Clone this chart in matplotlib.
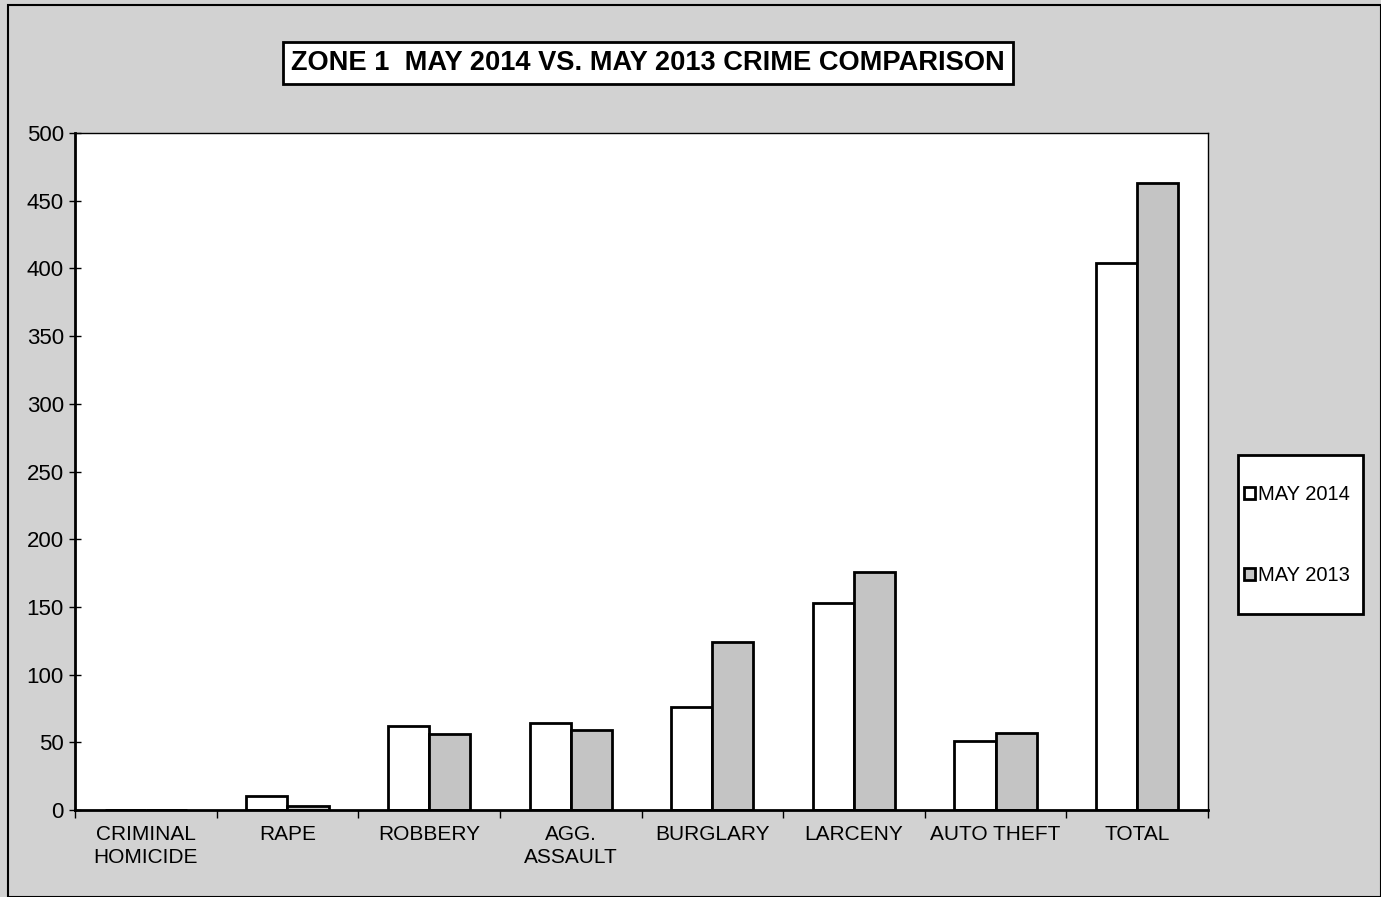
import numpy as np
import matplotlib.pyplot as plt
from matplotlib.patches import Rectangle

plt.rcParams['font.family'] = ['Liberation Sans', 'DejaVu Sans']

categories = ["CRIMINAL\nHOMICIDE", "RAPE", "ROBBERY", "AGG.\nASSAULT",
              "BURGLARY", "LARCENY", "AUTO THEFT", "TOTAL"]
may_2014 = [0, 10, 62, 64, 76, 153, 51, 404]
may_2013 = [0, 3, 56, 59, 124, 176, 57, 463]
yticks = [0, 50, 100, 150, 200, 250, 300, 350, 400, 450, 500]

W, H = 1381, 897
fig = plt.figure(figsize=(W / 100, H / 100), dpi=100, facecolor="#d2d2d2")

# plot area in pixel coords
x0, x1, y0, y1 = 75, 1208, 133, 810
ax = fig.add_axes([x0 / W, 1 - y1 / H, (x1 - x0) / W, (y1 - y0) / H])
ax.set_facecolor("white")

x = np.arange(len(categories))
bw = 0.29
ax.bar(x - bw / 2, may_2014, bw, color="white", edgecolor="black", linewidth=2, label="MAY 2014")
ax.bar(x + bw / 2, may_2013, bw, color="#c4c4c4", edgecolor="black", linewidth=2, label="MAY 2013")

ax.set_xlim(-0.5, len(categories) - 0.5)
ax.set_ylim(0, 500)
ax.set_yticks(yticks)
ax.set_yticklabels([str(v) for v in yticks], fontsize=16)
ax.tick_params(axis="y", direction="inout", length=8, width=1, pad=4)

ax.set_xticks(np.arange(len(categories) + 1) - 0.5)
ax.set_xticklabels([])
ax.tick_params(axis="x", direction="out", length=6, width=1)
for i, c in enumerate(categories):
    ax.text(i, -11, c, ha="center", va="top", fontsize=15, linespacing=1.25)

for s in ["top", "right"]:
    ax.spines[s].set_linewidth(1)
ax.spines["left"].set_linewidth(2)
ax.spines["bottom"].set_linewidth(2)

# legend box
fig.patches.append(Rectangle((1238 / W, 1 - 614 / H), 125 / W, 159 / H, transform=fig.transFigure,
                             facecolor="white", edgecolor="black", linewidth=2, zorder=2))
leg = fig.legend(loc="upper left", bbox_to_anchor=(1244 / W, 1 - 485 / H), fontsize=14.5,
                 frameon=False, handlelength=0.55, handleheight=0.55, handletextpad=0.15,
                 labelspacing=3.1, borderpad=0, borderaxespad=0)
leg.set_zorder(3)

fig.text(648 / W, 1 - 63 / H, "ZONE 1  MAY 2014 VS. MAY 2013 CRIME COMPARISON",
         ha="center", va="center", fontsize=19.6, fontweight="bold",
         bbox=dict(boxstyle="square,pad=0.3", facecolor="white", edgecolor="black", linewidth=2))

fig.patches.append(Rectangle((8 / W, 0), 1 - 8 / W, 1 - 5 / H, transform=fig.transFigure,
                             fill=False, edgecolor="black", linewidth=1.5))

fig.savefig("out.png", dpi=100, facecolor=fig.get_facecolor())
